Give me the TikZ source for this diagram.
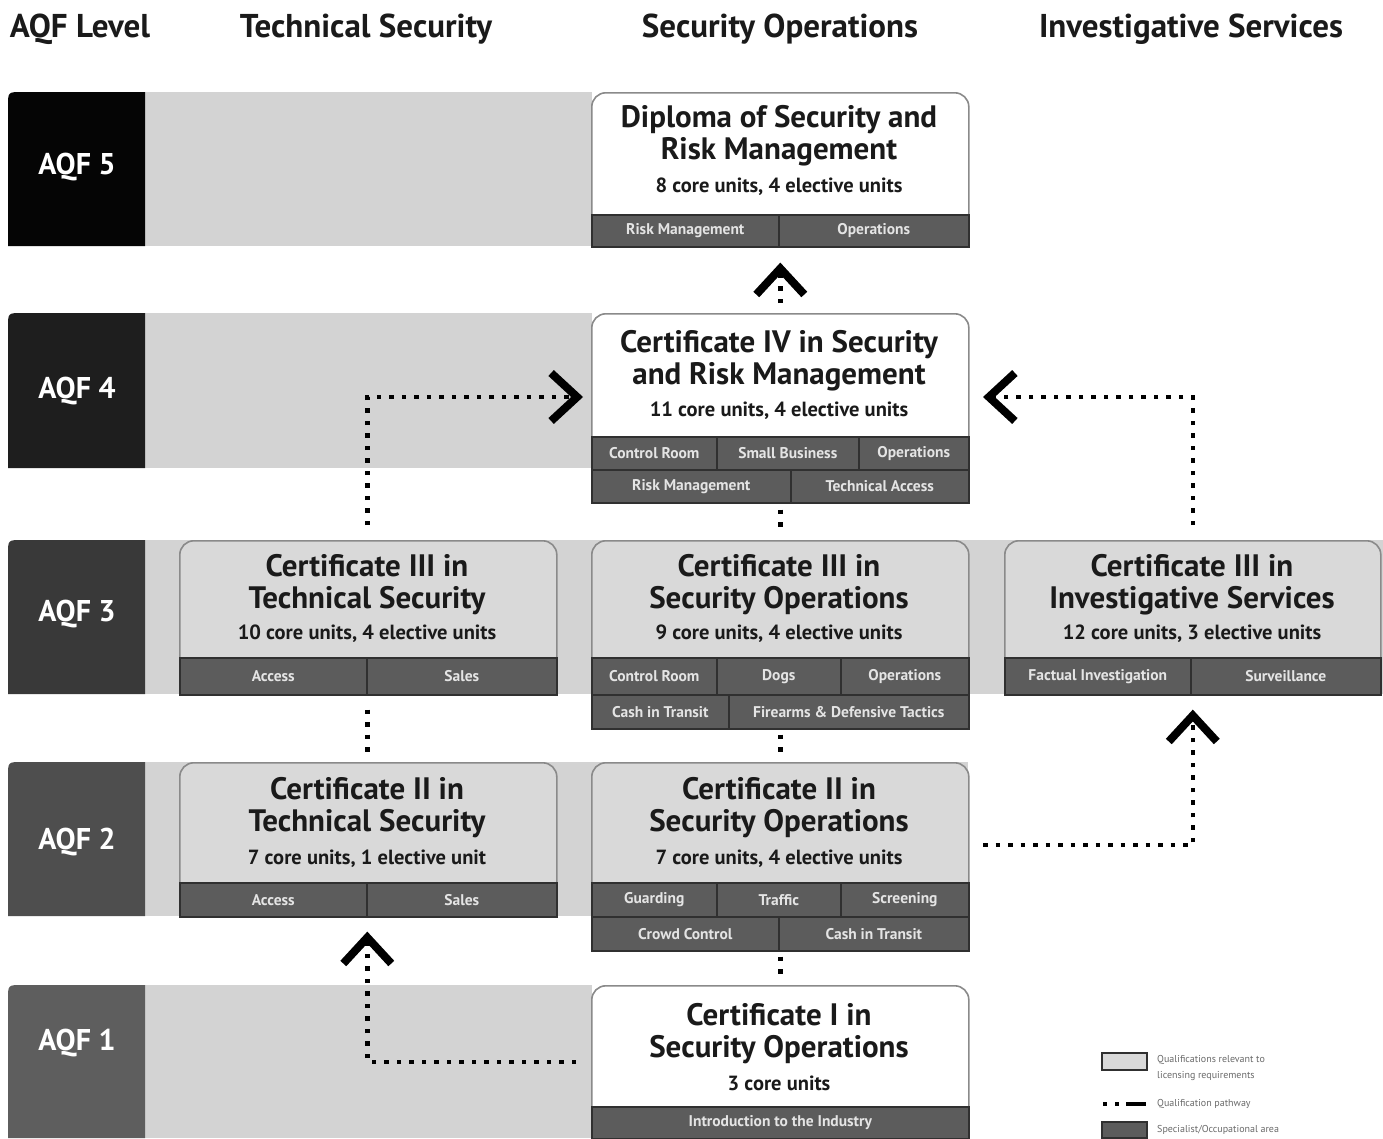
\documentclass[tikz,border=0pt]{standalone}
\usepackage{fontspec}
\setmainfont{PT Sans}
\usetikzlibrary{arrows.meta}
\definecolor{band}{HTML}{D3D3D3}
\definecolor{lightbox}{HTML}{D9D9D9}
\definecolor{boxline}{HTML}{8A8A8A}
\definecolor{tagfill}{HTML}{5C5C5C}
\definecolor{tagline}{HTML}{303030}
\definecolor{tagtext}{HTML}{E4E4E4}
\definecolor{titletext}{HTML}{1A1A1A}
\definecolor{legtext}{HTML}{6A6A6A}
\definecolor{lvlA}{HTML}{050505}
\definecolor{lvlB}{HTML}{1E1E1E}
\definecolor{lvlC}{HTML}{393939}
\definecolor{lvlD}{HTML}{4E4E4E}
\definecolor{lvlE}{HTML}{5E5E5E}
\tikzset{
  header/.style={font=\bfseries\fontsize{33}{36}\selectfont, text=titletext},
  lvltext/.style={font=\bfseries\fontsize{30}{32}\selectfont, text=white},
  qbox/.style={draw=boxline, line width=1.6pt, rounded corners=14pt, anchor=north west, inner sep=0pt, minimum width=377pt},
  qtitle/.style={font=\bfseries\fontsize{31}{32}\selectfont, align=center, text=titletext, inner sep=0pt},
  qsub/.style={font=\bfseries\fontsize{20.5}{22}\selectfont, text=titletext, inner sep=0pt},
  tagbox/.style={draw=tagline, fill=tagfill, line width=1.6pt, anchor=north west, inner sep=0pt, text=tagtext, font=\bfseries\fontsize{15.5}{15.5}\selectfont},
  qpath/.style={line width=4.5pt, dash pattern=on 4.5pt off 8pt, black},
  chevtip/.style={-{Straight Barb[length=26pt, width=48pt, line width=8pt]}},
  legtxt/.style={anchor=west, text=legtext, font=\fontsize{10}{16}\selectfont, align=left, inner sep=0pt},
}
\begin{document}
\begin{tikzpicture}[x=1pt, y=-1pt]
\fill[white] (0,0) rectangle (1383,1138);
\useasboundingbox (0,0) rectangle (1383,1138);

% headers
\node[header] (hAQF) at (80,29) {AQF Level};
\node[header] (hTech) at (366,29) {Technical Security};
\node[header] (hOps) at (780,29) {Security Operations};
\node[header] (hInv) at (1191,29) {Investigative Services};

% bands
\fill[band] (145,92) rectangle (592,246);
\fill[band] (145,313) rectangle (592,468);
\fill[band] (145,540) rectangle (1383,694);
\fill[band] (145,762) rectangle (968,916);
\fill[band] (145,985) rectangle (592,1138);

% level boxes
\fill[lvlA] (8,246) -- (8,106) .. controls (8,92) .. (22,92) -- (145,92) -- (145,246) -- cycle;
\fill[lvlB] (8,468) -- (8,327) .. controls (8,313) .. (22,313) -- (145,313) -- (145,468) -- cycle;
\fill[lvlC] (8,694) -- (8,554) .. controls (8,540) .. (22,540) -- (145,540) -- (145,694) -- cycle;
\fill[lvlD] (8,916) -- (8,776) .. controls (8,762) .. (22,762) -- (145,762) -- (145,916) -- cycle;
\fill[lvlE] (8,1138) -- (8,999) .. controls (8,985) .. (22,985) -- (145,985) -- (145,1138) -- cycle;
\node[lvltext] (l5) at (77,167) {AQF 5};
\node[lvltext] (l4) at (77,391) {AQF 4};
\node[lvltext] (l3) at (77,614) {AQF 3};
\node[lvltext] (l2) at (77,842) {AQF 2};
\node[lvltext] (l1) at (77,1043) {AQF 1};

% AQF 5 : Diploma
\node[qbox, fill=white, minimum height=154pt] (dip) at (591,92) {};
\node[qtitle] (dipT) at (779,136) {Diploma of Security and\\Risk Management};
\node[qsub] (dipS) at (779,187) {8 core units, 4 elective units};
\node[tagbox, minimum width=187pt, minimum height=32pt] (dip1) at (591,214) {Risk Management};
\node[tagbox, minimum width=190pt, minimum height=32pt] (dip2) at (778,214) {Operations};

% AQF 4 : Cert IV
\node[qbox, fill=white, minimum height=189pt] (c4) at (591,313) {};
\node[qtitle] (c4T) at (779,361) {Certificate IV in Security\\and Risk Management};
\node[qsub] (c4S) at (779,411) {11 core units, 4 elective units};
\node[tagbox, minimum width=125pt, minimum height=33pt] (c4a) at (591,436) {Control Room};
\node[tagbox, minimum width=142pt, minimum height=33pt] (c4b) at (716,436) {Small Business};
\node[tagbox, minimum width=110pt, minimum height=33pt] (c4c) at (858,436) {Operations};
\node[tagbox, minimum width=199pt, minimum height=33pt] (c4d) at (591,469) {Risk Management};
\node[tagbox, minimum width=178pt, minimum height=33pt] (c4e) at (790,469) {Technical Access};

% AQF 3
\node[qbox, fill=lightbox, minimum height=154pt] (t3) at (179,540) {};
\node[qtitle] (t3T) at (367,585) {Certificate III in\\Technical Security};
\node[qsub] (t3S) at (367,634) {10 core units, 4 elective units};
\node[tagbox, minimum width=187pt, minimum height=37pt] (t3a) at (179,657) {Access};
\node[tagbox, minimum width=190pt, minimum height=37pt] (t3b) at (366,657) {Sales};

\node[qbox, fill=lightbox, minimum height=188pt] (s3) at (591,540) {};
\node[qtitle] (s3T) at (779,585) {Certificate III in\\Security Operations};
\node[qsub] (s3S) at (779,634) {9 core units, 4 elective units};
\node[tagbox, minimum width=125pt, minimum height=37pt] (s3a) at (591,657) {Control Room};
\node[tagbox, minimum width=124pt, minimum height=37pt] (s3b) at (716,657) {Dogs};
\node[tagbox, minimum width=128pt, minimum height=37pt] (s3c) at (840,657) {Operations};
\node[tagbox, minimum width=137pt, minimum height=34pt] (s3d) at (591,694) {Cash in Transit};
\node[tagbox, minimum width=240pt, minimum height=34pt] (s3e) at (728,694) {Firearms \& Defensive Tactics};

\node[qbox, fill=lightbox, minimum width=376pt, minimum height=154pt] (i3) at (1004,540) {};
\node[qtitle] (i3T) at (1192,585) {Certificate III in\\Investigative Services};
\node[qsub] (i3S) at (1192,634) {12 core units, 3 elective units};
\node[tagbox, minimum width=186pt, minimum height=37pt] (i3a) at (1004,657) {Factual Investigation};
\node[tagbox, minimum width=190pt, minimum height=37pt] (i3b) at (1190,657) {Surveillance};

% AQF 2
\node[qbox, fill=lightbox, minimum height=154pt] (t2) at (179,762) {};
\node[qtitle] (t2T) at (367,808) {Certificate II in\\Technical Security};
\node[qsub] (t2S) at (367,859) {7 core units, 1 elective unit};
\node[tagbox, minimum width=187pt, minimum height=34pt] (t2a) at (179,882) {Access};
\node[tagbox, minimum width=190pt, minimum height=34pt] (t2b) at (366,882) {Sales};

\node[qbox, fill=lightbox, minimum height=188pt] (s2) at (591,762) {};
\node[qtitle] (s2T) at (779,808) {Certificate II in\\Security Operations};
\node[qsub] (s2S) at (779,859) {7 core units, 4 elective units};
\node[tagbox, minimum width=125pt, minimum height=34pt] (s2a) at (591,882) {Guarding};
\node[tagbox, minimum width=124pt, minimum height=34pt] (s2b) at (716,882) {Traffic};
\node[tagbox, minimum width=128pt, minimum height=34pt] (s2c) at (840,882) {Screening};
\node[tagbox, minimum width=187pt, minimum height=34pt] (s2d) at (591,916) {Crowd Control};
\node[tagbox, minimum width=190pt, minimum height=34pt] (s2e) at (778,916) {Cash in Transit};

% AQF 1
\node[qbox, fill=white, minimum height=153pt] (c1) at (591,985) {};
\node[qtitle] (c1T) at (779,1034) {Certificate I in\\Security Operations};
\node[qsub] (c1S) at (779,1083) {3 core units};
\node[tagbox, minimum width=377pt, minimum height=32pt] (c1a) at (591,1106) {Introduction to the Industry};

% pathways
\coordinate (c4inL) at (583,397);
\coordinate (c4inR) at (983,397);
\coordinate (s2out) at (983,845);
\coordinate (c1out) at (576,1062);
\draw[qpath, chevtip] ([yshift=10pt]c4.north) -- ([yshift=-15pt]dip.south);
\draw[qpath, chevtip] ([yshift=15pt,xshift=-1pt]t3.north) |- (c4inL);
\draw[qpath, chevtip] ([yshift=15pt]i3.north) |- (c4inR);
\draw[qpath] ([yshift=-6pt]c4.south) -- ([yshift=8pt]s3.north);
\draw[qpath] ([yshift=-14pt,xshift=-1pt]t3.south) -- ([yshift=10pt,xshift=-1pt]t2.north);
\draw[qpath] ([yshift=-5pt]s3.south) -- ([yshift=7pt]s2.north);
\draw[qpath] ([yshift=-5pt]s2.south) -- ([yshift=7pt]c1.north);
\draw[qpath, chevtip] (s2out) -| ([yshift=-14pt]i3.south);
\draw[qpath, chevtip] (c1out) -| ([yshift=-14pt,xshift=-1pt]t2.south);

% legend
\node[draw=tagline, fill=lightbox, line width=1.5pt, minimum width=45pt, minimum height=17pt, inner sep=0pt, anchor=north west] (legA) at (1101,1052) {};
\node[legtxt] (legAt) at (1157,1068) {Qualifications relevant to\\licensing requirements};
\coordinate (legB1) at (1103,1104);
\coordinate (legB2) at (1146,1104);
\draw[line width=4.5pt, dash pattern=on 4pt off 8pt on 4pt off 7pt on 20pt] (legB1) -- (legB2);
\node[legtxt] (legBt) at (1157,1104) {Qualification pathway};
\node[draw=tagline, fill=tagfill, line width=1.5pt, minimum width=45pt, minimum height=16pt, inner sep=0pt, anchor=north west] (legC) at (1101,1121) {};
\node[legtxt] (legCt) at (1157,1130) {Specialist/Occupational area};
\end{tikzpicture}
\end{document}
